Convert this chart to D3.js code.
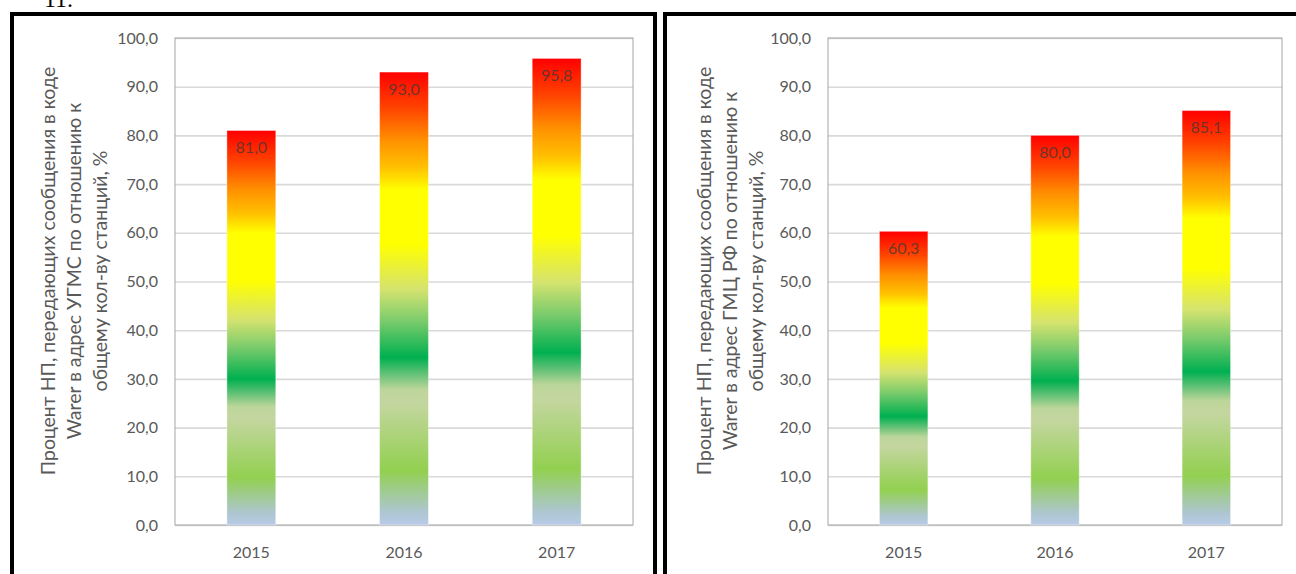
<!DOCTYPE html>
<html>
<head>
<meta charset="utf-8">
<script src="https://cdn.jsdelivr.net/npm/d3@7"></script>
<style>
  html, body { margin: 0; padding: 0; background: #fff; }
  svg { display: block; }
</style>
</head>
<body>
<svg id="chart" width="1296" height="574"></svg>
<script>
// Share of observation points sending Warer messages, by year
const years = ["2015", "2016", "2017"];
const ugmsValues = [81.0, 93.0, 95.8];   // to the УГМС address
const gmcValues = [60.3, 80.0, 85.1];    // to the ГМЦ РФ address
const yTicks = [0, 10, 20, 30, 40, 50, 60, 70, 80, 90, 100];
const ugmsTitle = [
  "Процент НП, передающих сообщения в коде",
  "Warer в адрес УГМС по отношению к",
  "общему кол-ву станций, %"
];
const gmcTitle = [
  "Процент НП, передающих сообщения в коде",
  "Warer в адрес ГМЦ РФ по отношению к",
  "общему кол-ву станций, %"
];

const svg = d3.select("#chart");
const fmt = v => d3.format(".1f")(v).replace(".", ",");
const FONT = "Lato, 'Open Sans', sans-serif";

// Vertical rainbow fill shared by all bars (bottom → top)
const defs = svg.append("defs");
const grad = defs.append("linearGradient")
  .attr("id", "barFill")
  .attr("x1", 0).attr("y1", 1).attr("x2", 0).attr("y2", 0);
[
  [0.00, "#b8cbe8"],
  [0.03, "#adc6cf"],
  [0.12, "#92d050"],
  [0.27, "#c4d6a0"],
  [0.30, "#bcd69a"],
  [0.33, "#6cc37a"],
  [0.37, "#00b050"],
  [0.45, "#7acb6c"],
  [0.52, "#d5e36f"],
  [0.62, "#ffff00"],
  [0.74, "#ffff00"],
  [0.79, "#ffc000"],
  [0.85, "#ff9000"],
  [0.92, "#ff4400"],
  [1.00, "#ff0000"]
].forEach(([o, c]) => grad.append("stop").attr("offset", o).attr("stop-color", c));

// Section number, partially above the frame
svg.append("text")
  .attr("x", 44).attr("y", 7)
  .attr("font-family", "'Liberation Serif', serif")
  .attr("font-size", 24)
  .attr("fill", "#000")
  .text("11.");

function drawPanel(cfg) {
  const g = svg.append("g");

  // Thick black frame
  g.append("rect")
    .attr("x", cfg.frame[0]).attr("y", 14)
    .attr("width", cfg.frame[1] - cfg.frame[0]).attr("height", 600)
    .attr("fill", "none").attr("stroke", "#000").attr("stroke-width", 4);

  const x = d3.scaleBand().domain(years).range([cfg.left, cfg.right]).paddingInner(0.68).paddingOuter(0.34);
  const y = d3.scaleLinear().domain([0, 100]).range([525, 38]);

  // Gridlines and value ticks
  const yAxis = d3.axisLeft(y).tickValues(yTicks).tickSize(-(cfg.right - cfg.left)).tickFormat(fmt).tickPadding(17);
  const ax = g.append("g").attr("transform", `translate(${cfg.left},0)`).call(yAxis);
  ax.select(".domain").remove();
  ax.selectAll(".tick line").attr("stroke", "#d9d9d9").attr("stroke-width", 1.6);
  ax.selectAll(".tick text")
    .attr("font-family", FONT).attr("font-size", 16).attr("fill", "#595959");

  // Plot area outline
  g.append("rect")
    .attr("x", cfg.left).attr("y", 38)
    .attr("width", cfg.right - cfg.left).attr("height", 525 - 38)
    .attr("fill", "none").attr("stroke", "#a6a6a6").attr("stroke-width", 1);

  // Bars
  g.selectAll("rect.bar").data(cfg.values).join("rect")
    .attr("class", "bar")
    .attr("x", (d, i) => x(years[i]))
    .attr("y", d => y(d))
    .attr("width", x.bandwidth())
    .attr("height", d => y(0) - y(d))
    .attr("fill", "url(#barFill)")
    .attr("stroke", "#ffffff").attr("stroke-opacity", 0.35).attr("stroke-width", 1);

  // Value labels inside the top of each bar
  g.selectAll("text.val").data(cfg.values).join("text")
    .attr("class", "val")
    .attr("x", (d, i) => x(years[i]) + x.bandwidth() / 2)
    .attr("y", d => y(d) + 17)
    .attr("dy", "0.35em")
    .attr("text-anchor", "middle")
    .attr("font-family", FONT).attr("font-size", 16)
    .attr("fill", "#3a3a3a").attr("fill-opacity", 0.75)
    .text(d => fmt(d));

  // Category labels
  const xAxis = d3.axisBottom(x).tickSize(0).tickPadding(0);
  const xa = g.append("g").attr("transform", "translate(0,552)").call(xAxis);
  xa.select(".domain").remove();
  xa.selectAll(".tick text")
    .attr("dy", "0.35em")
    .attr("font-family", FONT).attr("font-size", 16).attr("fill", "#595959");

  // Rotated axis title, three centred lines
  const t = g.append("text")
    .attr("transform", `translate(${cfg.titleX},271) rotate(-90)`)
    .attr("text-anchor", "middle")
    .attr("font-family", FONT).attr("font-size", 19.5).attr("fill", "#595959");
  cfg.title.forEach((line, i) => {
    t.append("tspan").attr("x", 0).attr("y", i * 26).attr("dy", "0.35em").text(line);
  });
}

drawPanel({ frame: [12, 655], left: 175, right: 633, values: ugmsValues, title: ugmsTitle, titleX: 48 });
drawPanel({ frame: [665, 1310], left: 828, right: 1282, values: gmcValues, title: gmcTitle, titleX: 704 });
</script>
</body>
</html>
